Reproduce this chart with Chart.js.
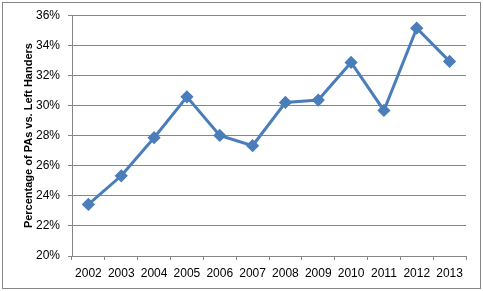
<!DOCTYPE html>
<html><head><meta charset="utf-8">
<script src="https://cdn.jsdelivr.net/npm/chart.js@4"></script>
<style>html,body{margin:0;padding:0;background:#fff;}#wrap{width:483px;height:291px;position:relative;}</style>
</head><body><div id="wrap"><canvas id="c" width="483" height="291"></canvas></div>
<script>
const years = ['2002','2003','2004','2005','2006','2007','2008','2009','2010','2011','2012','2013'];
const pctVsLeft = [0.2343,0.2533,0.2786,0.3058,0.2801,0.2733,0.3020,0.3036,0.3286,0.2967,0.3514,0.3293];
const yTicks = [0.20,0.22,0.24,0.26,0.28,0.30,0.32,0.34,0.36];
const axisTitle = 'Percentage of PAs vs. Left Handers';

const borderPlugin = {
  id:'border',
  beforeDraw(chart){
    const ctx = chart.ctx;
    ctx.save();
    ctx.fillStyle='#fff';ctx.fillRect(0,0,chart.width,chart.height);
    ctx.strokeStyle='#868686';ctx.lineWidth=1;
    ctx.strokeRect(2.5,2.5,chart.width-5,chart.height-5);
    ctx.restore();
  }
};
new Chart(document.getElementById('c'),{
  type:'line',
  data:{labels:years,datasets:[{data:pctVsLeft,borderColor:'#4a7ebb',backgroundColor:'#4a7ebb',borderWidth:3,pointStyle:'rectRot',pointRadius:4.5,pointHoverRadius:4.5,tension:0}]},
  options:{
    responsive:false,animation:false,devicePixelRatio:1,
    layout:{padding:{top:15,right:17,bottom:0,left:0}},
    plugins:{legend:{display:false},tooltip:{enabled:false}},
    scales:{
      x:{offset:true,
        grid:{offset:true,drawOnChartArea:false,drawTicks:true,tickLength:4,color:'#868686'},
        border:{color:'#868686'},
        ticks:{color:'#000',padding:6,font:{family:'Liberation Sans',size:12},maxRotation:0,autoSkip:false},
        afterFit(s){s.height=35;}
      },
      y:{min:0.20,max:0.36,
        afterBuildTicks(s){s.ticks=yTicks.map(v=>({value:v}));},
        grid:{color:'#868686',tickLength:4},
        border:{color:'#868686'},
        ticks:{color:'#000',padding:8,font:{family:'Liberation Sans',size:12},callback:v=>Math.round(v*100)+'%'},
        title:{display:true,text:axisTitle,color:'#000',font:{family:'Liberation Sans',size:11,weight:'bold'},padding:{top:22,bottom:0}},
        afterFit(s){s.width=72;}
      }
    }
  },
  plugins:[borderPlugin]
});
</script></body></html>
